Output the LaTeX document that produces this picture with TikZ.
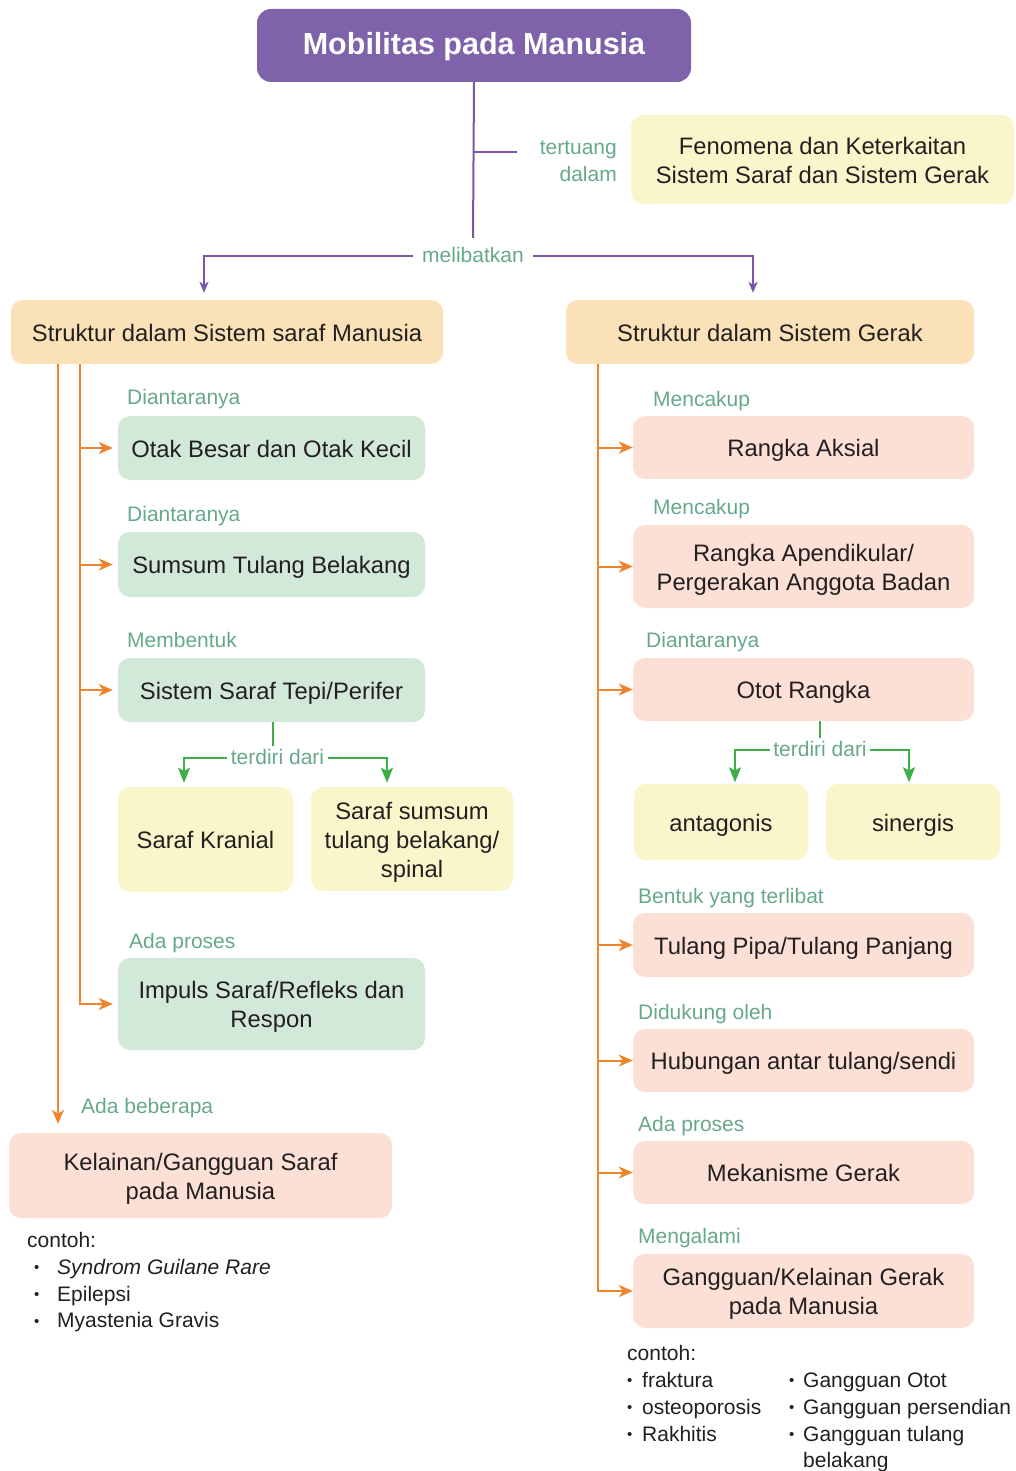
\documentclass[tikz,border=0pt]{standalone}
\usepackage{fontspec}
\setmainfont{Liberation Sans}
\usetikzlibrary{arrows.meta}
\definecolor{titlebg}{HTML}{7E63AA}
\definecolor{pline}{HTML}{7B56A8}
\definecolor{yel}{HTML}{FAF6CB}
\definecolor{peach}{HTML}{FAE1B8}
\definecolor{grn}{HTML}{D2E8D9}
\definecolor{pink}{HTML}{FCE0D6}
\definecolor{teal}{HTML}{66A98A}
\definecolor{org}{HTML}{F0842C}
\definecolor{garr}{HTML}{3DAE48}
\definecolor{txt}{HTML}{231F20}
\newcommand\topst{\rule{0pt}{23.5pt}}
\newcommand\botst{\rule[-5pt]{0pt}{5pt}}
\begin{document}
\begin{tikzpicture}[x=1pt,y=-1pt,
  box/.style={rounded corners=12pt, align=center, inner sep=0pt, text=txt,
    font=\fontsize{23.8}{29}\selectfont,
    execute at begin node={\topst},
    execute at end node={\botst}},
  titlebox/.style={rounded corners=14pt, align=center, inner sep=0pt, fill=titlebg, text=white,
    font=\fontsize{30.5}{36}\selectfont\bfseries,
    execute at begin node={\rule{0pt}{25.3pt}},
    execute at end node={\rule[-6.5pt]{0pt}{6.5pt}}},
  yelbox/.style={box, fill=yel},
  peachbox/.style={box, fill=peach},
  grnbox/.style={box, fill=grn},
  pinkbox/.style={box, fill=pink},
  lab/.style={text=teal, font=\fontsize{21}{27}\selectfont, inner sep=0pt, anchor=base west},
  midlab/.style={text=teal, font=\fontsize{21}{27}\selectfont, text height=13pt, text depth=1pt},
  plain/.style={text=txt, font=\fontsize{21}{27}\selectfont, inner sep=0pt, anchor=base west},
  pl/.style={draw=pline, line width=2pt},
  parrow/.style={pl, -{Stealth[length=11pt,width=9pt,inset=3pt]}, shorten >=7pt},
  ol/.style={draw=org, line width=2pt},
  oarrow/.style={ol, -{Stealth[length=14pt,width=12pt,inset=4pt]}},
  gl/.style={draw=garr, line width=2pt},
  garrow/.style={gl, -{Stealth[length=15pt,width=12pt,inset=3pt]}},
]
\useasboundingbox (0,0) rectangle (1015,1471);

% ---- top
\node[titlebox, minimum width=434pt, minimum height=73pt] (title) at (474,45.5) {Mobilitas pada Manusia};
\node[yelbox, minimum width=383pt, minimum height=89pt] (fen) at (822.5,159.5) {\topst Fenomena dan Keterkaitan\\Sistem Saraf dan Sistem Gerak\botst};
\node[text=teal, font=\fontsize{21}{27}\selectfont, align=right, inner sep=0pt, anchor=east] (tert) at (617,161.5) {tertuang\\dalam};
\node[midlab, inner xsep=9pt, inner ysep=11pt] (mel) at (473,256) {melibatkan};

\coordinate (tj) at (473,152);
\coordinate (tb) at (517,152);
\coordinate (pxl) at (204,0);
\coordinate (pxr) at (753,0);
\draw[pl] (title.south) -- (mel.north);
\draw[pl] (tj) -- (tb);

% ---- level 2
\node[peachbox, minimum width=432pt, minimum height=64pt] (strukS) at (227,332) {Struktur dalam Sistem saraf Manusia};
\node[peachbox, minimum width=408pt, minimum height=64pt] (strukG) at (770,332) {Struktur dalam Sistem Gerak};
\draw[parrow] (mel.west) -| (strukS.north -| pxl);
\draw[parrow] (mel.east) -| (strukG.north -| pxr);

% ---- left column
\node[grnbox, minimum width=307pt, minimum height=64pt] (otak) at (271.5,448) {Otak Besar dan Otak Kecil};
\node[grnbox, minimum width=307pt, minimum height=65pt] (sumsum) at (271.5,564.5) {Sumsum Tulang Belakang};
\node[grnbox, minimum width=307pt, minimum height=64pt] (tepi) at (271.5,690) {Sistem Saraf Tepi/Perifer};
\node[grnbox, minimum width=307pt, minimum height=92pt] (impuls) at (271.5,1004) {\topst Impuls Saraf/Refleks dan\\Respon\botst};
\node[yelbox, minimum width=175pt, minimum height=105pt] (kranial) at (205.5,839.5) {Saraf Kranial};
\node[yelbox, minimum width=202pt, minimum height=104pt] (spinal) at (412,839) {\topst Saraf sumsum\\tulang belakang/\\spinal\botst};
\node[pinkbox, minimum width=383pt, minimum height=85pt] (kel) at (200.5,1175.5) {\topst Kelainan/Gangguan Saraf\\pada Manusia\botst};
\node[midlab, inner xsep=3.5pt, inner ysep=5pt] (td1) at (277.5,758) {terdiri dari};

\node[lab] (l1) at (127,404) {Diantaranya};
\node[lab] (l2) at (127,521) {Diantaranya};
\node[lab] (l3) at (127,647) {Membentuk};
\node[lab] (l4) at (129,948) {Ada proses};
\node[lab] (l5) at (81,1113.5) {Ada beberapa};

\coordinate (la) at (58,0);
\coordinate (lb) at (80,0);
\coordinate (gxl) at (184,0);
\coordinate (gxr) at (387,0);
\draw[oarrow, shorten >=9pt] (strukS.south -| la) -- (kel.north -| la);
\draw[oarrow, shorten >=5pt] (strukS.south -| lb) -- (impuls.west -| lb) -- (impuls.west);
\draw[oarrow, shorten >=5pt] (otak.west -| lb) -- (otak.west);
\draw[oarrow, shorten >=5pt] (sumsum.west -| lb) -- (sumsum.west);
\draw[oarrow, shorten >=5pt] (tepi.west -| lb) -- (tepi.west);

\draw[gl] (tepi.south -| td1.north) ++(-4.5,0) -- ++(0,24);
\draw[garrow, shorten >=4pt] (td1.west) -| (kranial.north -| gxl);
\draw[garrow, shorten >=4pt] (td1.east) -| (spinal.north -| gxr);

% left examples
\node[plain] (c0) at (27,1247) {contoh:};
\node[plain] (c1) at (34,1274) {\makebox[23pt][l]{\raisebox{1.5pt}{\fontsize{15}{15}\selectfont •}}\textit{Syndrom Guilane Rare}};
\node[plain] (c2) at (34,1301) {\makebox[23pt][l]{\raisebox{1.5pt}{\fontsize{15}{15}\selectfont •}}Epilepsi};
\node[plain] (c3) at (34,1327.5) {\makebox[23pt][l]{\raisebox{1.5pt}{\fontsize{15}{15}\selectfont •}}Myastenia Gravis};

% ---- right column
\node[pinkbox, minimum width=341pt, minimum height=63pt] (aksial) at (803.5,447.5) {Rangka Aksial};
\node[pinkbox, minimum width=341pt, minimum height=83pt] (apen) at (803.5,566.5) {\topst Rangka Apendikular/\\Pergerakan Anggota Badan\botst};
\node[pinkbox, minimum width=341pt, minimum height=63pt] (otot) at (803.5,689.5) {Otot Rangka};
\node[yelbox, minimum width=174pt, minimum height=76pt] (antag) at (721,822) {antagonis};
\node[yelbox, minimum width=174pt, minimum height=76pt] (siner) at (913,822) {sinergis};
\node[pinkbox, minimum width=341pt, minimum height=64pt] (pipa) at (803.5,945) {Tulang Pipa/Tulang Panjang};
\node[pinkbox, minimum width=341pt, minimum height=63pt] (hub) at (803.5,1060.5) {Hubungan antar tulang/sendi};
\node[pinkbox, minimum width=341pt, minimum height=63pt] (mek) at (803.5,1172.5) {Mekanisme Gerak};
\node[pinkbox, minimum width=341pt, minimum height=74pt] (gang) at (803.5,1291) {\topst Gangguan/Kelainan Gerak\\pada Manusia\botst};
\node[midlab, inner xsep=3.5pt, inner ysep=5pt] (td2) at (820,750) {terdiri dari};

\node[lab] (r1) at (653,406) {Mencakup};
\node[lab] (r2) at (653,514) {Mencakup};
\node[lab] (r3) at (646,647) {Diantaranya};
\node[lab] (r4) at (638,903) {Bentuk yang terlibat};
\node[lab] (r5) at (638,1019) {Didukung oleh};
\node[lab] (r6) at (638,1131) {Ada proses};
\node[lab] (r7) at (638,1243) {Mengalami};

\coordinate (ra) at (598,0);
\coordinate (gxl2) at (735,0);
\coordinate (gxr2) at (909,0);
\draw[oarrow] (strukG.south -| ra) -- (gang.west -| ra) -- (gang.west);
\foreach \n in {aksial,apen,otot,pipa,hub,mek}
  \draw[oarrow] (\n.west -| ra) -- (\n.west);

\draw[gl] (otot.south -| td2.north) -- (td2.north);
\draw[garrow, shorten >=1.5pt] (td2.west) -| (antag.north -| gxl2);
\draw[garrow, shorten >=1.5pt] (td2.east) -| (siner.north -| gxr2);

% right examples
\node[plain] (d0) at (627,1360) {contoh:};
\node[plain] (d1) at (627,1387) {\makebox[15pt][l]{\raisebox{1.5pt}{\fontsize{15}{15}\selectfont •}}fraktura};
\node[plain] (d2) at (627,1414) {\makebox[15pt][l]{\raisebox{1.5pt}{\fontsize{15}{15}\selectfont •}}osteoporosis};
\node[plain] (d3) at (627,1441) {\makebox[15pt][l]{\raisebox{1.5pt}{\fontsize{15}{15}\selectfont •}}Rakhitis};
\node[plain] (e1) at (789,1387) {\makebox[14pt][l]{\raisebox{1.5pt}{\fontsize{15}{15}\selectfont •}}Gangguan Otot};
\node[plain] (e2) at (789,1414) {\makebox[14pt][l]{\raisebox{1.5pt}{\fontsize{15}{15}\selectfont •}}Gangguan persendian};
\node[plain] (e3) at (789,1441) {\makebox[14pt][l]{\raisebox{1.5pt}{\fontsize{15}{15}\selectfont •}}Gangguan tulang};
\node[plain] (e4) at (803,1467) {belakang};
\end{tikzpicture}
\end{document}
